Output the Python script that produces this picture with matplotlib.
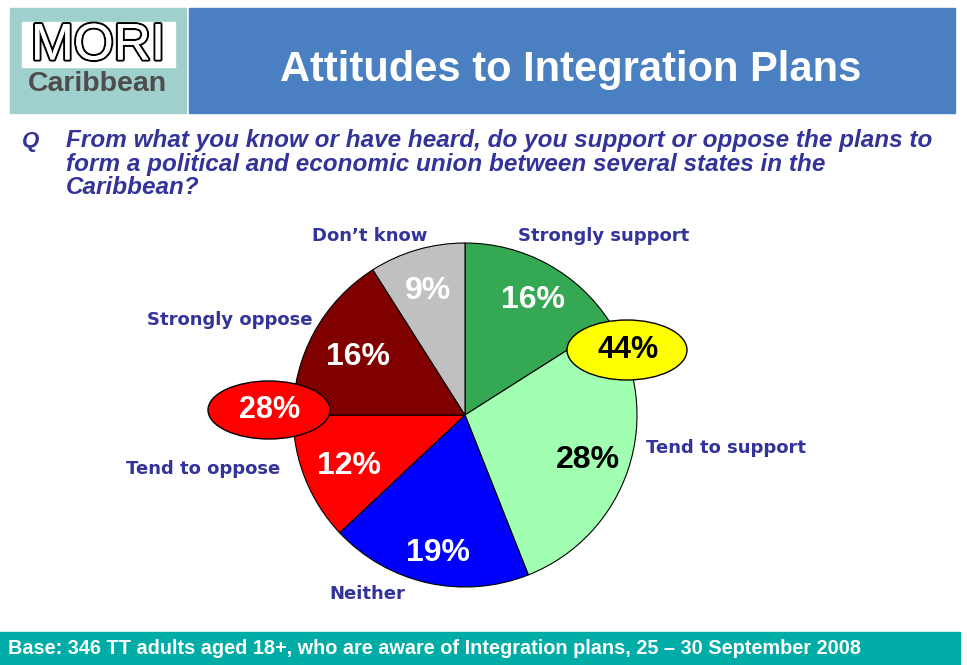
import matplotlib
matplotlib.use('Agg')
import matplotlib.pyplot as plt
import matplotlib.patheffects as pe
from matplotlib.patches import Rectangle, Ellipse

# data
categories = ['Strongly support', 'Tend to support', 'Neither',
              'Tend to oppose', 'Strongly oppose', "Don\u2019t know"]
values = [16, 28, 19, 12, 16, 9]
colors = ['#35a853', '#a0ffb0', '#0000ff', '#ff0000', '#800000', '#c0c0c0']
support_total = values[0] + values[1]
oppose_total = values[3] + values[4]

title = 'Attitudes to Integration Plans'
question = ['From what you know or have heard, do you support or oppose the plans to',
            'form a political and economic union between several states in the',
            'Caribbean?']
base = 'Base: 346 TT adults aged 18+, who are aware of Integration plans, 25 \u2013 30 September 2008'

navy = '#333399'

W, H = 967, 665
fig = plt.figure(figsize=(W / 100, H / 100), dpi=100)

# background axes in pixel coordinates
bg = fig.add_axes([0, 0, 1, 1])
bg.set_xlim(0, W)
bg.set_ylim(H, 0)
bg.axis('off')

# header
bg.add_patch(Rectangle((10, 8), 176, 105, color='#9fd0cd'))
bg.add_patch(Rectangle((189, 8), 766, 105, color='#4a80c2'))
bg.add_patch(Rectangle((22, 22), 153, 45, color='white'))
bg.text(98, 46, 'MORI', ha='center', va='center', fontsize=37, color='white',
        family='Liberation Sans',
        path_effects=[pe.withStroke(linewidth=3, foreground='black'), pe.Normal()])
bg.text(97, 84, 'Caribbean', ha='center', va='center', fontsize=20.5, fontweight='bold',
        color='#4d4d4d', family='Liberation Sans')
bg.text(571, 70, title, ha='center', va='center', fontsize=30, fontweight='bold',
        color='white', family='Liberation Sans')

# question
bg.text(22, 141, 'Q', ha='left', va='center', fontsize=16, fontweight='bold',
        style='italic', color=navy, family='Liberation Sans')
for i, line in enumerate(question):
    bg.text(66, 141 + 23 * i, line, ha='left', va='center', fontsize=17.5,
            fontweight='bold', style='italic', color=navy, family='Liberation Sans')

# footer
bg.add_patch(Rectangle((0, 632), 960, 33, color='#00aca6'))
bg.text(8, 648, base, ha='left', va='center', fontsize=14.3, fontweight='bold',
        color='white', family='Liberation Sans')

# pie
cx, cy, r = 465, 415, 172
pax = fig.add_axes([(cx - r) / W, 1 - (cy + r) / H, 2 * r / W, 2 * r / H])
pax.pie(values, colors=colors, startangle=90, counterclock=False,
        wedgeprops=dict(edgecolor='black', linewidth=0.8))
pax.set_xlim(-1, 1)
pax.set_ylim(-1, 1)
pax.axis('off')

# top axes for labels and net ellipses
top = fig.add_axes([0, 0, 1, 1])
top.set_xlim(0, W)
top.set_ylim(H, 0)
top.axis('off')

# percentage labels
pct_pos = [(533, 300), (588, 460), (438, 553), (349, 466), (358, 357), (428, 291)]
pct_col = ['white', 'black', 'white', 'white', 'white', 'white']
for v, (x, y), c in zip(values, pct_pos, pct_col):
    top.text(x, y, f'{v}%', ha='center', va='center', fontsize=23,
             fontweight='bold', color=c, family='Liberation Sans')

# category labels
cat_pos = [(604, 236), (726, 448), (367, 594), (203, 469), (230, 320), (370, 236)]
for name, (x, y) in zip(categories, cat_pos):
    top.text(x, y, name, ha='center', va='center', fontsize=13, fontweight='bold',
             color=navy, family='DejaVu Sans')

top.add_patch(Ellipse((627, 350), 120, 60, facecolor='#ffff00', edgecolor='black', lw=1))
top.text(628, 350, f'{support_total}%', ha='center', va='center', fontsize=22,
         fontweight='bold', color='black', family='Liberation Sans')
top.add_patch(Ellipse((269, 410), 122, 58, facecolor='#ff0000', edgecolor='black', lw=1))
top.text(270, 410, f'{oppose_total}%', ha='center', va='center', fontsize=22,
         fontweight='bold', color='white', family='Liberation Sans')

fig.savefig('out.png', dpi=100)
